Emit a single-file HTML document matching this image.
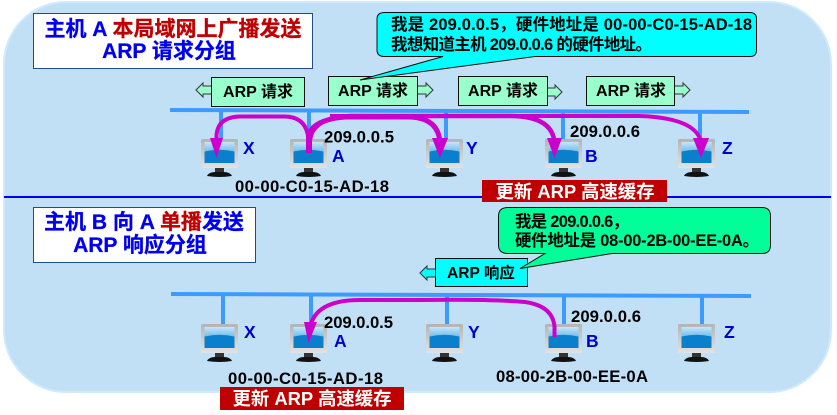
<!DOCTYPE html>
<html><head><meta charset="utf-8"><style>
html,body{margin:0;padding:0;background:#fff}
svg{display:block}
text{font-family:"Liberation Sans","Noto Sans CJK SC",sans-serif;font-weight:bold}
</style></head><body>
<svg width="837" height="415" viewBox="0 0 837 415" xmlns="http://www.w3.org/2000/svg">
<defs>
<linearGradient id="scr" x1="0" y1="0" x2="0" y2="1"><stop offset="0" stop-color="#c4e6fa"/><stop offset="0.6" stop-color="#5cb0e6"/><stop offset="1" stop-color="#3f9fdc"/></linearGradient>
<linearGradient id="fr" x1="0" y1="0" x2="0" y2="1"><stop offset="0" stop-color="#b4b4b4"/><stop offset="1" stop-color="#e2e2e2"/></linearGradient>
<g id="pc">
<rect x="0" y="0" width="37" height="29" rx="1.500" fill="url(#fr)"/>
<rect x="3.500" y="3" width="30" height="21" fill="url(#scr)"/>
<path d="M3.500 12.500Q18.500 9 33.500 12.500V24H3.500Z" fill="#0a80cc"/>
<rect x="14" y="29" width="9" height="4" fill="#333"/>
<path d="M6 37Q8 33 14 33H23Q29 33 31 37Q18.500 39 6 37Z" fill="#111"/>
</g>
<g id="arL"><path d="M0 8L7 1V4H16V12H7V15Z" stroke="#333" stroke-width="1"/></g>
<g id="arR"><path d="M0 4H9V1L16 8L9 15V12H0Z" stroke="#333" stroke-width="1"/></g>
</defs>
<rect x="4" y="2" width="827" height="390" rx="62" ry="62" fill="#c1e0f6" stroke="#cfeafc" stroke-width="2"/>
<line x1="4" y1="197" x2="831" y2="197" stroke="#0000f0" stroke-width="2"/>

<!-- title boxes -->
<rect x="33.500" y="13.500" width="279" height="55" fill="#fff" stroke="#1f4e86" stroke-width="1"/>
<text x="173" y="36" font-size="21" text-anchor="middle" fill="#0000ee" stroke="#0000ee" stroke-width="0.3">主机 A <tspan fill="#c00000" stroke="#c00000">本局域网上广播发送</tspan></text>
<text x="169" y="58" font-size="21" text-anchor="middle" fill="#0000ee" stroke="#0000ee" stroke-width="0.3">ARP 请求分组</text>
<rect x="33.500" y="207.500" width="222" height="55" fill="#fff" stroke="#1f4e86" stroke-width="1"/>
<text x="144" y="229" font-size="21" text-anchor="middle" fill="#0000ee" stroke="#0000ee" stroke-width="0.3">主机 B 向 A <tspan fill="#c00000" stroke="#c00000">单播</tspan>发送</text>
<text x="140" y="252" font-size="21" text-anchor="middle" fill="#0000ee" stroke="#0000ee" stroke-width="0.3">ARP 响应分组</text>

<!-- bus -->
<g stroke="#3d9bff" fill="none">
<line x1="170" y1="110" x2="749" y2="112" stroke-width="4"/>
<g stroke-width="4"><line x1="221" y1="111" x2="221" y2="140"/><line x1="309" y1="111" x2="309" y2="140"/><line x1="446" y1="111" x2="446" y2="140"/><line x1="563" y1="111" x2="563" y2="140"/><line x1="700" y1="111" x2="700" y2="140"/></g>
<line x1="171" y1="294" x2="751" y2="296" stroke-width="4"/>
<g stroke-width="4"><line x1="223" y1="295" x2="223" y2="325"/><line x1="311" y1="295" x2="311" y2="325"/><line x1="447" y1="295" x2="447" y2="325"/><line x1="564" y1="295" x2="564" y2="325"/><line x1="702" y1="295" x2="702" y2="325"/></g>
</g>

<!-- computers -->
<use href="#pc" x="201" y="139"/><use href="#pc" x="290" y="139"/><use href="#pc" x="426" y="139"/><use href="#pc" x="545" y="139"/><use href="#pc" x="678" y="139"/>
<use href="#pc" x="201" y="324"/><use href="#pc" x="290" y="324"/><use href="#pc" x="426" y="324"/><use href="#pc" x="545" y="324"/><use href="#pc" x="678" y="324"/>

<!-- pink arrows -->
<g fill="none" stroke="#cc00cc">
<path d="M216.500 142V135Q218 117 240 116.500H285Q307 117 308.500 140V153" stroke-width="4"/>
<path d="M308.500 153V138Q310 120 345 117H410Q438 118 440 142" stroke-width="5"/>
<path d="M310 140Q312 118 350 116H510Q552 116 554.500 142" stroke-width="4.500"/>
<path d="M330 116H640Q696 118 701 142" stroke-width="4"/>
<path d="M554.500 337V327Q553 306 525 302Q490 299 420 300H360Q315 300 310 328" stroke-width="4"/>
<path d="M309 153V135" stroke-width="6"/>
</g>
<g fill="#cc00cc">
<path d="M210 138L223 138L216.500 158Z"/>
<path d="M432 138L448 138L440 158Z"/>
<path d="M547 138L562 138L554.500 158Z"/>
<path d="M693 138L709 138L701 158Z"/>
<path d="M304 322L317 322L308.500 343Z"/>
</g>

<!-- ARP request boxes -->
<use href="#arL" x="196" y="82" fill="#99ffcc"/>
<rect x="211.500" y="77.500" width="93" height="29" fill="#99ffcc" stroke="#111"/>
<text x="258" y="97" font-size="16" text-anchor="middle" fill="#000">ARP 请求</text>
<use href="#arR" x="417" y="82" fill="#99ffcc"/>
<rect x="328.500" y="76.500" width="89" height="29" fill="#99ffcc" stroke="#111"/>
<text x="373" y="96" font-size="16" text-anchor="middle" fill="#000">ARP 请求</text>
<use href="#arR" x="546" y="84" fill="#99ffcc"/>
<rect x="458.500" y="76.500" width="89" height="29" fill="#99ffcc" stroke="#111"/>
<text x="503" y="96" font-size="16" text-anchor="middle" fill="#000">ARP 请求</text>
<use href="#arR" x="674" y="82" fill="#99ffcc"/>
<rect x="586.500" y="76.500" width="88" height="29" fill="#99ffcc" stroke="#111"/>
<text x="631" y="96" font-size="16" text-anchor="middle" fill="#000">ARP 请求</text>

<!-- callout top -->
<path d="M384.500 12.500H750Q756.500 12.500 756.500 19V50Q756.500 56.500 750 56.500H535L360 80L443 56.500H384.500Q377 56.500 377 50V19Q377 12.500 384.500 12.500Z" fill="#00ffff" stroke="#111" stroke-width="1"/>
<text x="391" y="30" font-size="16.500" textLength="361" lengthAdjust="spacing" fill="#000">我是 209.0.0.5，硬件地址是 00-00-C0-15-AD-18</text>
<text x="391" y="50" font-size="16.500" textLength="261" lengthAdjust="spacing" fill="#000">我想知道主机 209.0.0.6 的硬件地址。</text>

<!-- response -->
<use href="#arL" x="420" y="265" fill="#00ffff"/>
<rect x="435.500" y="258.500" width="92" height="28" fill="#00ffff" stroke="#111"/>
<text x="481" y="278" font-size="15.500" text-anchor="middle" fill="#000">ARP 响应</text>

<!-- callout bottom -->
<path d="M508 207.500H762Q770.500 207.500 770.500 216V245Q770.500 253.500 762 253.500H612L520 268.500L545 253.500H508Q498.500 253.500 498.500 245V216Q498.500 207.500 508 207.500Z" fill="#00ff99" stroke="#111"/>
<text x="515" y="227" font-size="16.400" textLength="114" lengthAdjust="spacing" fill="#000">我是 209.0.0.6，</text>
<text x="515" y="246" font-size="16.400" textLength="244" lengthAdjust="spacing" fill="#000">硬件地址是 08-00-2B-00-EE-0A。</text>

<!-- labels -->
<g font-size="17.500" fill="#0000cc">
<text x="243" y="154">X</text><text x="332" y="162">A</text><text x="466" y="154">Y</text><text x="585" y="162">B</text><text x="722" y="154">Z</text>
<text x="244" y="338">X</text><text x="334" y="347">A</text><text x="468" y="338">Y</text><text x="586" y="347">B</text><text x="724" y="338">Z</text>
</g>
<g font-size="16.700" fill="#000">
<text x="324" y="142.500" textLength="70">209.0.0.5</text><text x="570" y="137" textLength="70">209.0.0.6</text>
<text x="324" y="328" textLength="69">209.0.0.5</text><text x="571" y="322" textLength="70">209.0.0.6</text>
<text x="235" y="192" textLength="154">00-00-C0-15-AD-18</text>
<text x="228" y="384" textLength="155">00-00-C0-15-AD-18</text>
<text x="496" y="382" textLength="152">08-00-2B-00-EE-0A</text>
</g>

<!-- update bars -->
<rect x="482" y="180" width="185" height="22" fill="#c00000"/>
<text x="575" y="198" font-size="18.400" text-anchor="middle" fill="#fff">更新 ARP 高速缓存</text>
<rect x="220" y="387" width="184" height="23" fill="#c00000"/>
<text x="312" y="405" font-size="18.400" text-anchor="middle" fill="#fff">更新 ARP 高速缓存</text>
</svg>
</body></html>
